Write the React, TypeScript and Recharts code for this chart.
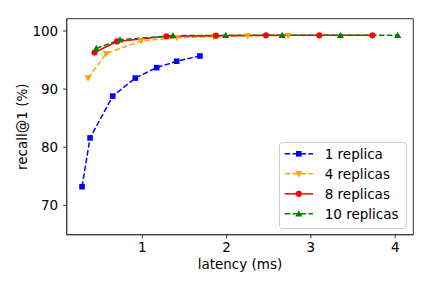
import { Line, LineChart, ReferenceArea, XAxis, YAxis } from "recharts";

// latency (ms) / recall@1 (%)
const oneX = [0.285, 0.38, 0.649, 0.917, 1.171, 1.408, 1.684];
const oneY = [73.2, 81.6, 88.8, 91.9, 93.7, 94.8, 95.7];
const fourX = [0.356, 0.571, 0.985, 1.41, 1.85, 2.25, 2.73];
const fourY = [91.9, 96.1, 98.3, 98.85, 99.05, 99.15, 99.2];
const eightX = [0.433, 0.7, 1.287, 1.874, 2.467, 3.1, 3.73];
const eightY = [96.3, 98.2, 99.1, 99.2, 99.25, 99.25, 99.25];
const tenX = [0.454, 0.735, 1.364, 1.99, 2.66, 3.35, 4.03];
const tenY = [97.0, 98.5, 99.2, 99.25, 99.25, 99.25, 99.25];

const xTicks = [1, 2, 3, 4];
const yTicks = [70, 80, 90, 100];
const X_DOM: [number, number] = [0.103, 4.215];
const Y_DOM: [number, number] = [64.94, 102.12];

const FONT = "'DejaVu Sans', sans-serif";
const FS = 13.5;
const SPINE = "#333";

const pts = (xs: number[], ys: number[]) => xs.map((x, i) => ({ x, y: ys[i] }));

type Shape = "square" | "down" | "circle" | "up";

function marker(shape: Shape, cx: number, cy: number, color: string, key?: string) {
  if (shape === "square")
    return <rect key={key} x={cx - 2.8} y={cy - 2.8} width={5.6} height={5.6} fill={color} />;
  if (shape === "circle") return <circle key={key} cx={cx} cy={cy} r={3.1} fill={color} />;
  const s = 3.6;
  const p =
    shape === "up"
      ? `${cx},${cy - s} ${cx - s},${cy + s * 0.75} ${cx + s},${cy + s * 0.75}`
      : `${cx},${cy + s} ${cx - s},${cy - s * 0.75} ${cx + s},${cy - s * 0.75}`;
  return <polygon key={key} points={p} fill={color} />;
}

const SERIES: { name: string; xs: number[]; ys: number[]; color: string; shape: Shape; dash?: string }[] = [
  { name: "1 replica", xs: oneX, ys: oneY, color: "#0000ff", shape: "square", dash: "5.5 2.4" },
  { name: "4 replicas", xs: fourX, ys: fourY, color: "#ffa500", shape: "down", dash: "5.5 2.4" },
  { name: "8 replicas", xs: eightX, ys: eightY, color: "#ff0000", shape: "circle" },
  { name: "10 replicas", xs: tenX, ys: tenY, color: "#008000", shape: "up", dash: "5.5 2.4" },
];

function LegendBox() {
  return (
    <svg width={128} height={87} style={{ position: "absolute", left: 279.3, top: 141.7 }}>
      <rect x={0.5} y={0.5} width={127} height={86} rx={3} fill="#fff" fillOpacity={0.8} stroke="#ccc" />
      {SERIES.map((s, i) => {
        const cy = 11.8 + i * 20;
        return (
          <g key={s.name}>
            <line x1={5.7} x2={34} y1={cy} y2={cy} stroke={s.color} strokeWidth={1.5} strokeDasharray={s.dash} />
            {marker(s.shape, 19.8, cy, s.color)}
            <text x={45.7} y={cy} dominantBaseline="central" fontFamily={FONT} fontSize={FS} fill="#000">
              {s.name}
            </text>
          </g>
        );
      })}
    </svg>
  );
}

export default function App() {
  return (
    <div style={{ position: "absolute", left: 0, top: 0, width: 432, height: 288, background: "#fff" }}>
      <LineChart width={432} height={288} margin={{ top: 18.7, right: 18.7, bottom: 0, left: 0 }}>
        <XAxis
          dataKey="x"
          type="number"
          domain={X_DOM}
          ticks={xTicks}
          height={53.3}
          tickSize={3.5}
          tickMargin={4}
          stroke={SPINE}
          tick={{ fill: "#000", fontSize: FS, fontFamily: FONT }}
          label={{ value: "latency (ms)", position: "insideBottom", offset: 19, fill: "#000", fontSize: FS, fontFamily: FONT }}
        />
        <YAxis
          type="number"
          domain={Y_DOM}
          ticks={yTicks}
          width={66.7}
          tickSize={3.5}
          tickMargin={5}
          stroke={SPINE}
          tick={{ fill: "#000", fontSize: FS, fontFamily: FONT }}
          label={{
            content: ({ viewBox }: any) => {
              const cy = viewBox.y + viewBox.height / 2;
              return (
                <text
                  x={21.7}
                  y={cy}
                  transform={`rotate(-90 21.7 ${cy})`}
                  textAnchor="middle"
                  dominantBaseline="central"
                  fontFamily={FONT}
                  fontSize={FS}
                  fill="#000"
                >
                  recall@1 (%)
                </text>
              );
            },
          }}
        />
        <ReferenceArea x1={X_DOM[0]} x2={X_DOM[1]} y1={Y_DOM[0]} y2={Y_DOM[1]} fill="none" stroke={SPINE} strokeWidth={1} />
        {SERIES.map((s) => (
          <Line
            key={s.name}
            name={s.name}
            data={pts(s.xs, s.ys)}
            dataKey="y"
            stroke={s.color}
            strokeWidth={1.5}
            strokeDasharray={s.dash}
            isAnimationActive={false}
            dot={(p: any) => marker(s.shape, p.cx, p.cy, s.color, `${s.name}-${p.index}`)}
            activeDot={false}
          />
        ))}
      </LineChart>
      <LegendBox />
    </div>
  );
}
